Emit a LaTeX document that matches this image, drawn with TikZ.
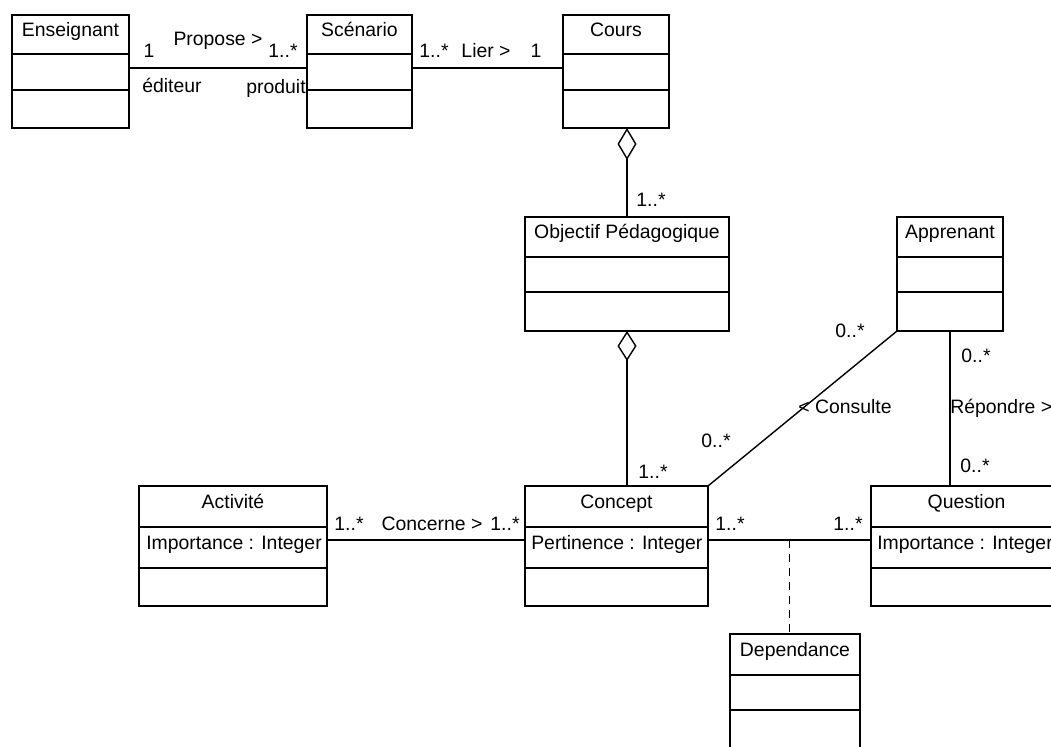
\documentclass[tikz,border=0pt]{standalone}
\usepackage{fontspec}
\setmainfont{Liberation Sans}
\usetikzlibrary{positioning, arrows.meta}

\newlength{\pxl}
\setlength{\pxl}{0.025cm}

\tikzset{
  classbox/.style={draw, line width=1pt, anchor=north west, inner sep=0pt, outer sep=0pt},
  classname/.style={anchor=base, inner sep=0pt, font=\fontsize{13.8}{16}\selectfont},
  attribute/.style={anchor=base west, inner sep=0pt, font=\fontsize{13.8}{16}\selectfont},
  role/.style={anchor=base, inner sep=0pt, font=\fontsize{13.8}{16}\selectfont},
  assoc/.style={line width=1pt},
}

\begin{document}
\begin{tikzpicture}[x=0.025cm, y=-0.025cm]
        \useasboundingbox (0,0) rectangle (1051,747);
        \fill[white] (0,0) rectangle (1051,747);
        \clip (0,0) rectangle (1051,747);

        % Classes: name / corner / size / dividers / title
        \foreach \n/\x/\y/\w/\h/\da/\db/\t in {
            ens/12/15/117/113/39/75/Enseignant,
            sce/307/15/105/113/39/75/Scénario,
            cours/563/15/106/113/39/75/Cours,
            obj/525/217/204/114/40/75/Objectif Pédagogique,
            app/897/217/106/114/40/75/Apprenant,
            act/139/486/188/120/41/82/Activité,
            con/525/486/183/120/41/82/Concept,
            que/871/486/191/120/41/82/Question,
            dep/730/634/130/118/41/76/Dependance}
        {
            \node[classbox, minimum width=\w\pxl, minimum height=\h\pxl] (\n) at (\x,\y) {};
            \node[classname] (\n-name) at ([yshift=-22\pxl]\n.north) {\t};
            \draw[assoc] ([yshift=-\da\pxl]\n.north west) -- ([yshift=-\da\pxl]\n.north east);
            \draw[assoc] ([yshift=-\db\pxl]\n.north west) -- ([yshift=-\db\pxl]\n.north east);
        }

        % Attributes
        \node[attribute] (act-attr) at ([xshift=7\pxl, yshift=-63\pxl]act.north west) {Importance : Integer};
        \node[attribute] (con-attr) at ([xshift=6\pxl, yshift=-63\pxl]con.north west) {Pertinence : Integer};
        \node[attribute] (que-attr) at ([xshift=6\pxl, yshift=-63\pxl]que.north west) {Importance : Integer};

        % Enseignant -- Scenario
        \draw[assoc] ([yshift=-53\pxl]ens.north east) -- ([yshift=-53\pxl]sce.north west);
        \node[role] (ens-mult) at (149,58) {1};
        \node[role] (propose) at (218,46) {Propose >};
        \node[role] (sce-mult) at (283,58) {1..*};
        \node[role] (editeur) at (172,93) {éditeur};
        \node[role] (produit) at (276,94) {produit};

        % Scenario -- Cours
        \draw[assoc] ([yshift=-53\pxl]sce.north east) -- ([yshift=-53\pxl]cours.north west);
        \node[role] (lier-a) at (434,58) {1..*};
        \node[role] (lier) at (486,58) {Lier >};
        \node[role] (lier-b) at (536,58) {1};

        % Aggregations
        \draw[assoc, {Diamond[open, length=0.8cm, width=0.475cm]}-] (obj.north |- cours.south) -- (obj.north);
        \node[role] (obj-mult) at (651,207) {1..*};
        \draw[assoc, {Diamond[open, length=0.75cm, width=0.475cm]}-] (obj.south) -- (obj.south |- con.north);
        \node[role] (con-mult) at (653,478) {1..*};

        % Apprenant -- Concept
        \draw[assoc] (app.south west) -- (con.north east);
        \node[role] (cons-a) at (850,337) {0..*};
        \node[role] (consulte) at (845,413) {< Consulte};
        \node[role] (cons-b) at (716,447) {0..*};

        % Apprenant -- Question
        \draw[assoc] (app.south) -- (app.south |- que.north);
        \node[role] (rep-a) at (976,362) {0..*};
        \node[role, anchor=base west] (repondre) at (950,413) {Répondre >};
        \node[role] (rep-b) at (975,472) {0..*};

        % Activite -- Concept
        \draw[assoc] ([yshift=-54\pxl]act.north east) -- ([yshift=-54\pxl]con.north west);
        \node[role] (conc-a) at (349,530) {1..*};
        \node[role] (concerne) at (432,530) {Concerne >};
        \node[role] (conc-b) at (505,530) {1..*};

        % Concept -- Question, with Dependance
        \draw[assoc] ([yshift=-54\pxl]con.north east) -- coordinate[midway] (cq-mid) ([yshift=-54\pxl]que.north west);
        \node[role] (dep-a) at (730,530) {1..*};
        \node[role] (dep-b) at (848,530) {1..*};
        \draw[assoc, dash pattern=on 0.2cm off 0.15cm] (cq-mid) -- (cq-mid |- dep.north);
\end{tikzpicture}
\end{document}
